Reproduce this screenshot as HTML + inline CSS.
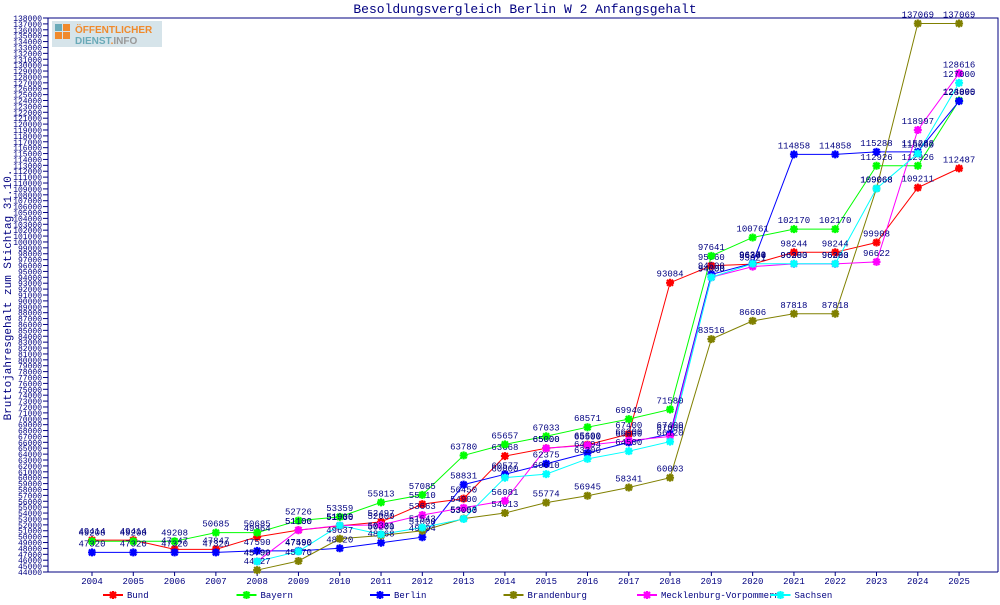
<!DOCTYPE html>
<html><head><meta charset="utf-8"><style>
body{margin:0;background:#fff;width:1000px;height:600px;overflow:hidden}
svg{font-family:"Liberation Mono","DejaVu Sans Mono",monospace}
</style></head><body>
<svg id="s" width="1000" height="600" xmlns="http://www.w3.org/2000/svg">
<rect x="0" y="0" width="1000" height="600" fill="#fff"/>
<text x="525" y="13" font-size="13" fill="#000080" text-anchor="middle">Besoldungsvergleich Berlin W 2 Anfangsgehalt</text>
<text transform="translate(11,295) rotate(-90)" font-size="11" fill="#000080" text-anchor="middle">Bruttojahresgehalt zum Stichtag 31.10.</text>
<rect x="52" y="21" width="110" height="26" fill="#d6e4ea"/>
<rect x="55" y="24" width="7" height="7" fill="#6aaab8"/><rect x="63" y="24" width="7" height="7" fill="#f08a2c"/>
<rect x="55" y="32" width="7" height="7" fill="#f08a2c"/><rect x="63" y="32" width="7" height="7" fill="#f08a2c"/>
<text x="75" y="33" font-family="Liberation Sans,sans-serif" font-weight="bold" font-size="10" fill="#f08a2c">ÖFFENTLICHER</text>
<text x="75" y="44" font-family="Liberation Sans,sans-serif" font-weight="bold" font-size="10" fill="#6aaab8">DIENST<tspan fill="#f08a2c">.</tspan><tspan fill="#999">INFO</tspan></text>
<g id="g"></g>
</svg>
<script>
const g=document.getElementById('g');const NS='http://www.w3.org/2000/svg';
function el(t,a,txt){const e=document.createElementNS(NS,t);for(const k in a)e.setAttribute(k,a[k]);if(txt!==undefined)e.textContent=txt;g.appendChild(e);return e;}
const L=48,R=998,T=18,B=572;
const Y=v=>B-(v-44000)*(B-T)/94000;
const X=i=>92+i*41.29;
el('polyline',{points:`${L},${T} ${R},${T} ${R},${B}`,fill:'none',stroke:'#000080'});
el('line',{x1:L,y1:T,x2:L,y2:B,stroke:'#000080'});
el('line',{x1:L,y1:B,x2:R,y2:B,stroke:'#000080'});
for(let v=44000;v<=138000;v+=1000){const y=Y(v);el('line',{x1:L-5,y1:y,x2:L,y2:y,stroke:'#000080'});
el('text',{x:L-6,y:y+3,'font-size':8,fill:'#000080','text-anchor':'end'},v);}
for(let i=0;i<22;i++){el('line',{x1:X(i),y1:B,x2:X(i),y2:B+4,stroke:'#000080'});
el('text',{x:X(i),y:B+12,'font-size':9,fill:'#000080','text-anchor':'middle'},2004+i);}
const S=[
['Bund','#ff0000',[49414,49414,47847,47847,49964,51100,51836,52497,55510,56450,63668,65000,65600,67400,93084,95960,96244,98244,98244,99908,109211,112487]],
['Bayern','#00ff00',[49208,49208,49208,50685,50685,52726,53359,55813,57085,63780,65657,67033,68571,69940,71580,97641,100761,102170,102170,112926,112926,124000]],
['Berlin','#0000ff',[47320,47320,47320,47320,47590,47590,48020,48968,49904,58831,60577,62375,64194,66000,67400,94500,96370,114858,114858,115288,115288,123895]],
['Brandenburg','#808000',[null,null,null,null,44327,45870,49637,50200,51000,53053,54013,55774,56945,58341,60003,83516,86606,87818,87818,109068,137069,137069]],
['Mecklenburg-Vorpommern','#ff00ff',[null,null,null,null,45790,51100,51900,52000,53663,54900,56081,65000,65500,66300,67000,94000,95821,96283,96283,96622,118997,128616]],
['Sachsen','#00ffff',[null,null,null,null,45790,47490,51900,50381,51543,53000,60000,60610,63200,64500,66120,94000,96300,96300,96300,109068,115000,127000]]];
function star(x,y,c){el('path',{d:`M${x-4},${y}H${x+4}M${x},${y-4}V${y+4}M${x-3},${y-3}L${x+3},${y+3}M${x-3},${y+3}L${x+3},${y-3}`,stroke:c,'stroke-width':2.2});el('circle',{cx:x,cy:y,r:2.5,fill:c});}
S.forEach(([n,c,d])=>{let p=[];d.forEach((v,i)=>{if(v!=null)p.push(X(i)+','+Y(v))});el('polyline',{points:p.join(' '),fill:'none',stroke:c,'stroke-width':1});});
S.forEach(([n,c,d])=>{d.forEach((v,i)=>{if(v==null)return;star(X(i),Y(v),c);el('text',{x:X(i),y:Y(v)-6,'font-size':9,fill:'#000080','text-anchor':'middle'},v);});});
S.forEach(([n,c],k)=>{const x=103+k*133.5,y=595;el('line',{x1:x,y1:y,x2:x+20,y2:y,stroke:c,'stroke-width':2});star(x+10,y,c);
el('text',{x:x+24,y:y+3,'font-size':9,fill:'#000080'},n);});
</script>
</body></html>
